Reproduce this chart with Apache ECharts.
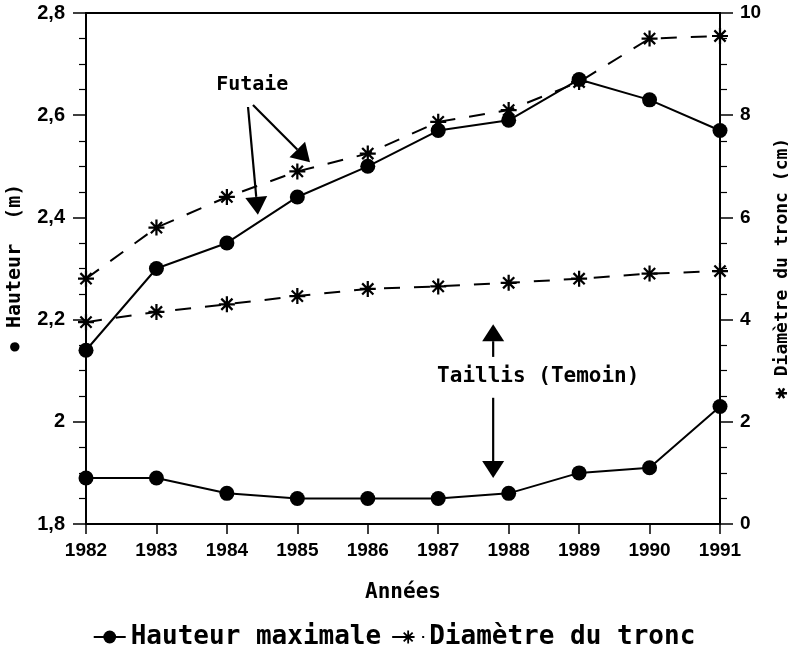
<!DOCTYPE html>
<html>
<head>
<meta charset="utf-8">
<script src="https://cdn.jsdelivr.net/npm/echarts@6/dist/echarts.min.js"></script>
<style>html,body{margin:0;padding:0;background:#fff}#c{width:788px;height:658px}</style>
</head>
<body>
<div id="c"></div>
<script>
const years = [1982, 1983, 1984, 1985, 1986, 1987, 1988, 1989, 1990, 1991];
const hauteurFutaie = [2.14, 2.30, 2.35, 2.44, 2.50, 2.57, 2.59, 2.67, 2.63, 2.57];
const hauteurTaillis = [1.89, 1.89, 1.86, 1.85, 1.85, 1.85, 1.86, 1.90, 1.91, 2.03];
const diametreFutaie = [4.8, 5.8, 6.4, 6.9, 7.25, 7.87, 8.1, 8.65, 9.5, 9.55];
const diametreTaillis = [3.95, 4.15, 4.3, 4.46, 4.6, 4.65, 4.72, 4.8, 4.9, 4.95];
const leftTicks = [1.8, 2.0, 2.2, 2.4, 2.6, 2.8];
const rightTicks = [0, 2, 4, 6, 8, 10];

// annotation anchors in data coordinates [year, hauteur]
const futaieLabel = [1984.36, 2.659];
const futaieArrows = [[[1984.30, 2.616], [1984.44, 2.405]], [[1984.37, 2.620], [1985.18, 2.508]]];
const taillisLabel = [1988.42, 2.088];
const taillisArrows = [[[1987.78, 2.127], [1987.78, 2.191]], [[1987.78, 2.047], [1987.78, 1.890]]];

const MONO = '"DejaVu Sans Mono", "Liberation Mono", monospace';
const SANS = '"Liberation Sans", Arial, sans-serif';
const star = 'path://M8.6 0H11.4V20H8.6Z M0 8.6H20V11.4H0Z M4 2L18 16L16 18L2 4Z M16 2L18 4L4 18L2 16Z';

const pair = (xs, ys) => xs.map((x, i) => [x, ys[i]]);

const chart = echarts.init(document.getElementById('c'), null, {renderer: 'canvas'});
const axisLine = {show: true, lineStyle: {color: '#000', width: 2}};
const option = {
  backgroundColor: '#fff',
  animation: false,
  grid: {left: 86, right: 68, top: 13, bottom: 134, outerBoundsMode: 'none', containLabel: false,
         show: true, borderColor: '#000', borderWidth: 2, backgroundColor: 'transparent'},
  legend: {
    bottom: 3, left: 'center', itemWidth: 32, itemHeight: 16, itemGap: 10,
    data: ['Hauteur maximale', 'Diamètre du tronc'],
    textStyle: {fontFamily: MONO, fontWeight: 'bold', fontSize: 26, color: '#000'}
  },
  xAxis: {
    type: 'value', min: years[0], max: years[years.length - 1], interval: 1,
    name: 'Années', nameLocation: 'middle', nameGap: 58,
    nameTextStyle: {fontFamily: MONO, fontWeight: 'bold', fontSize: 21, color: '#000'},
    axisLine: axisLine,
    axisTick: {show: true, inside: false, length: 10, lineStyle: {color: '#000', width: 1.5}},
    axisLabel: {formatter: v => String(v), margin: 17, fontFamily: SANS, fontWeight: 'bold', fontSize: 19, color: '#000'},
    splitLine: {show: false}
  },
  yAxis: [{
    type: 'value', position: 'left', min: leftTicks[0], max: leftTicks[leftTicks.length - 1], interval: 0.2,
    name: '{c|●} Hauteur  (m)', nameLocation: 'middle', nameRotate: 90, nameGap: 60,
    nameTextStyle: {fontFamily: MONO, fontWeight: 'bold', fontSize: 20, color: '#000',
      rich: {c: {fontSize: 22, fontFamily: SANS, color: '#000'}}},
    axisLine: axisLine,
    axisTick: {show: true, inside: false, length: 13, lineStyle: {color: '#000', width: 1.5}},
    minorTick: {show: true, splitNumber: 4, length: 7, lineStyle: {color: '#000', width: 1.2}},
    axisLabel: {formatter: v => String(Math.round(v * 10) / 10).replace('.', ','), margin: 21, fontFamily: SANS, fontWeight: 'bold', fontSize: 20, color: '#000'},
    splitLine: {show: false}
  }, {
    type: 'value', position: 'right', min: rightTicks[0], max: rightTicks[rightTicks.length - 1], interval: 2,
    name: '{s|✱} Diamètre du tronc (cm)', nameLocation: 'middle', nameRotate: 90, nameGap: 50,
    nameTextStyle: {fontFamily: MONO, fontWeight: 'bold', fontSize: 18, color: '#000',
      rich: {s: {fontSize: 20, color: '#000'}}},
    axisLine: axisLine,
    axisTick: {show: true, inside: false, length: 13, lineStyle: {color: '#000', width: 1.5}},
    minorTick: {show: true, splitNumber: 4, length: 7, lineStyle: {color: '#000', width: 1.2}},
    axisLabel: {margin: 20, fontFamily: SANS, fontWeight: 'bold', fontSize: 19, color: '#000'},
    splitLine: {show: false}
  }],
  series: [
    {name: 'Diamètre du tronc', type: 'line', yAxisIndex: 1, data: pair(years, diametreFutaie),
     symbol: star, symbolSize: 16, symbolKeepAspect: true,
     lineStyle: {color: '#000', width: 2, type: [16, 14]}, itemStyle: {color: '#000'}},
    {name: 'Diamètre du tronc', type: 'line', yAxisIndex: 1, data: pair(years, diametreTaillis),
     symbol: star, symbolSize: 16, symbolKeepAspect: true,
     lineStyle: {color: '#000', width: 2, type: [16, 14]}, itemStyle: {color: '#000'}},
    {name: 'Hauteur maximale', type: 'line', yAxisIndex: 0, data: pair(years, hauteurFutaie),
     symbol: 'circle', symbolSize: 15,
     lineStyle: {color: '#000', width: 2}, itemStyle: {color: '#000'}},
    {name: 'Hauteur maximale', type: 'line', yAxisIndex: 0, data: pair(years, hauteurTaillis),
     symbol: 'circle', symbolSize: 15,
     lineStyle: {color: '#000', width: 2}, itemStyle: {color: '#000'}}
  ]
};
chart.setOption(option);

function px(p) { return chart.convertToPixel({xAxisIndex: 0, yAxisIndex: 0}, p); }
function arrow(from, to, headLen, headW) {
  const a = px(from), b = px(to);
  const dx = b[0] - a[0], dy = b[1] - a[1];
  const L = Math.sqrt(dx * dx + dy * dy);
  const ux = dx / L, uy = dy / L;
  const bx = b[0] - ux * headLen, by = b[1] - uy * headLen;
  const nx = -uy * headW / 2, ny = ux * headW / 2;
  return [
    {type: 'line', shape: {x1: a[0], y1: a[1], x2: bx, y2: by}, style: {stroke: '#000', lineWidth: 2.2}, z: 100},
    {type: 'polygon', shape: {points: [[b[0], b[1]], [bx + nx, by + ny], [bx - nx, by - ny]]}, style: {fill: '#000'}, z: 100}
  ];
}
const g = [];
const fl = px(futaieLabel), tl = px(taillisLabel);
g.push({type: 'text', x: fl[0], y: fl[1], style: {text: 'Futaie', fill: '#000', font: 'bold 20px ' + MONO, textAlign: 'center', textVerticalAlign: 'middle'}, z: 100});
g.push({type: 'text', x: tl[0], y: tl[1], style: {text: 'Taillis (Temoin)', fill: '#000', font: 'bold 21px ' + MONO, textAlign: 'center', textVerticalAlign: 'middle'}, z: 100});
futaieArrows.forEach(a => g.push(...arrow(a[0], a[1], 18, 22)));
taillisArrows.forEach(a => g.push(...arrow(a[0], a[1], 17, 22)));
chart.setOption({graphic: g});
</script>
</body>
</html>
